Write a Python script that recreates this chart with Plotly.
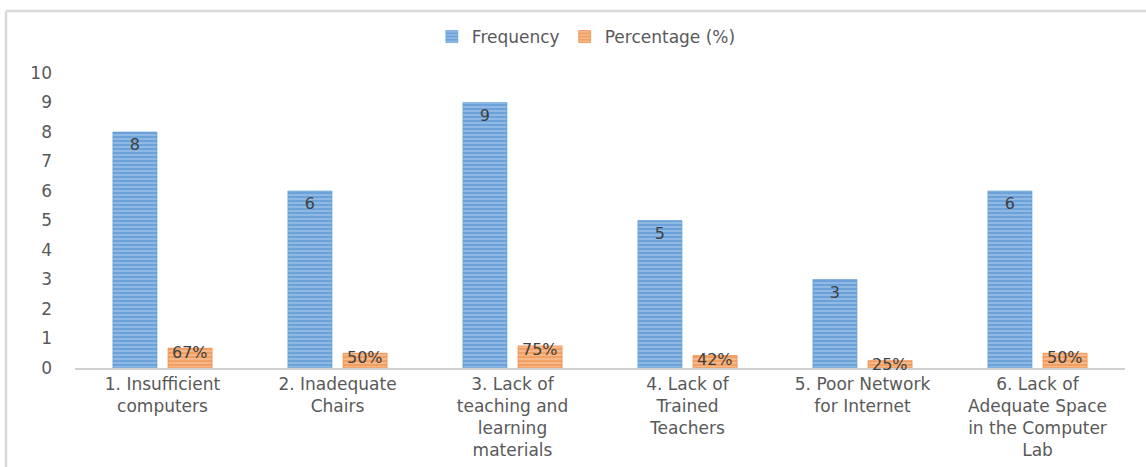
import plotly.graph_objects as go

categories = [
    "1. Insufficient<br>computers",
    "2. Inadequate<br>Chairs",
    "3. Lack of<br>teaching and<br>learning<br>materials",
    "4. Lack of<br>Trained<br>Teachers",
    "5. Poor Network<br>for Internet",
    "6. Lack of<br>Adequate Space<br>in the Computer<br>Lab",
]
frequency = [8, 6, 9, 5, 3, 6]
percentage = [0.67, 0.50, 0.75, 0.42, 0.25, 0.50]
percentage_labels = ["67%", "50%", "75%", "42%", "25%", "50%"]
y_ticks = [0, 1, 2, 3, 4, 5, 6, 7, 8, 9, 10]

FONT = "DejaVu Sans"
TXT = "#595959"
LBL = "#404040"
FS = 17

L, R, T, B = 75, 21, 73, 99
W, H = 1146, 467
pw, ph = W - L - R, H - T - B
slot = pw / len(categories)

fig = go.Figure()
fig.add_trace(go.Bar(
    x=categories, y=frequency, name="Frequency",
    text=[str(v) for v in frequency],
    textposition="inside", insidetextanchor="end",
    textfont=dict(family=FONT, size=16, color=LBL),
    marker=dict(color="#6aa2d9",
                line=dict(color="#5b9bd5", width=0.6),
                pattern=dict(shape="-", fgcolor="#bcd6f0", size=4, solidity=0.45)),
))
fig.add_trace(go.Bar(
    x=categories, y=percentage, name="Percentage (%)",
    textposition="none",
    marker=dict(color="#f2a062",
                line=dict(color="#ed7d31", width=0.6),
                pattern=dict(shape="-", fgcolor="#fbd5b8", size=4, solidity=0.45)),
))

# percentage labels straddling the top of the short orange bars
for c, v, t in zip(categories, percentage, percentage_labels):
    fig.add_annotation(x=c, y=v, text=t, showarrow=False,
                       xshift=slot * 0.63 / 4, yshift=-4, yanchor="middle",
                       font=dict(family=FONT, size=16, color=LBL))

fig.update_layout(
    width=W, height=H,
    margin=dict(l=L, r=R, t=T, b=B, autoexpand=False),
    paper_bgcolor="white", plot_bgcolor="white",
    barmode="group", bargap=0.37, bargroupgap=0.2,
    font=dict(family=FONT, size=FS, color=TXT),
    showlegend=True,
    legend=dict(orientation="h", x=0.487, xanchor="center", y=(H - B - 37) / ph,
                yanchor="middle", bgcolor="rgba(0,0,0,0)",
                font=dict(family=FONT, size=FS, color=TXT),
                traceorder="normal"),
)
fig.update_xaxes(showline=True, linecolor="#d0d0d0", linewidth=1.5,
                 showgrid=False, ticks="", tickfont=dict(family=FONT, size=FS, color=TXT),
                 tickangle=0, fixedrange=True, automargin=False)
fig.update_yaxes(range=[0, 10], tickvals=y_ticks, showgrid=False, zeroline=False,
                 showline=False, ticks="", ticklabelstandoff=22, automargin=False,
                 fixedrange=True, tickfont=dict(family=FONT, size=FS, color=TXT))

# outer frame lines (top and left)
x_left = (6 - L) / pw
y_top = (H - B - 11) / ph
fig.add_shape(type="line", xref="paper", yref="paper", x0=x_left, x1=(W - L) / pw,
              y0=y_top, y1=y_top, line=dict(color="#d9d9d9", width=2.5))
fig.add_shape(type="line", xref="paper", yref="paper", x0=x_left, x1=x_left,
              y0=y_top, y1=-B / ph, line=dict(color="#d9d9d9", width=2.5))

fig.write_html("out.html", config={"displayModeBar": False},
               post_script="document.body.style.margin='0';document.body.style.overflow='hidden';")
